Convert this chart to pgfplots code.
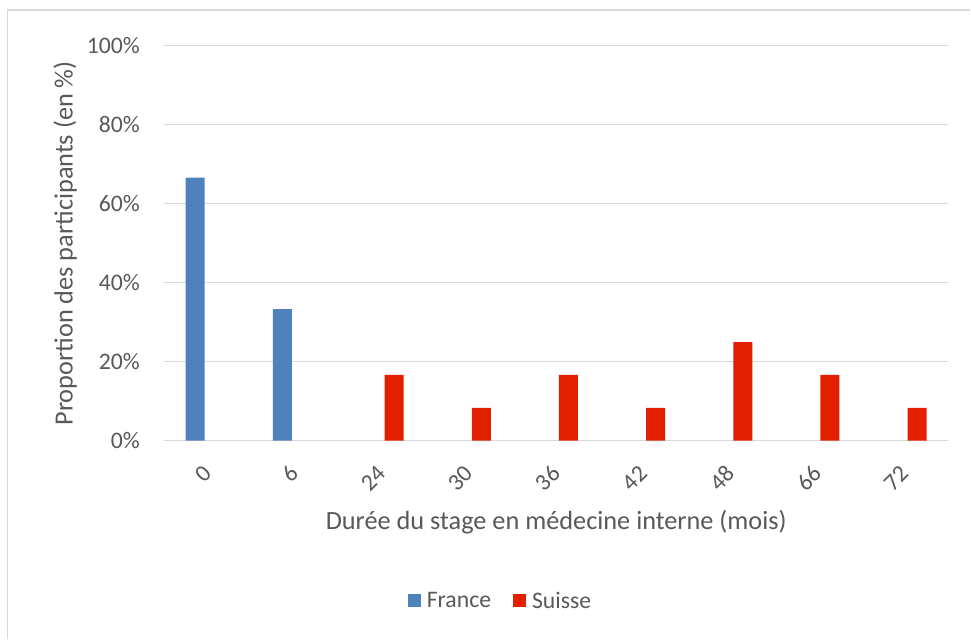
\documentclass[border=0pt]{standalone}
\usepackage{fontspec}
\setmainfont{Carlito}
\usepackage{pgfplots}
\pgfplotsset{compat=1.18}
\definecolor{fr}{RGB}{79,129,189}
\definecolor{ch}{RGB}{226,32,0}
\definecolor{txt}{RGB}{89,89,89}
\definecolor{grd}{RGB}{217,217,217}
\begin{document}
\begin{tikzpicture}[x=1bp,y=1bp]
\path[fill=white] (0,0) rectangle (971,639);
\draw[grd, line width=1.2bp] (7.5,0) -- (7.5,629) -- (971,629);
\begin{axis}[
  at={(164bp,198bp)}, anchor=south west,
  scale only axis, width=785bp, height=395bp,
  xmin=-0.5, xmax=8.5, ymin=0, ymax=100,
  xtick={0,...,8}, xticklabels={0,6,24,30,36,42,48,66,72},
  ytick={0,20,...,100}, yticklabels={0\%,20\%,40\%,60\%,80\%,100\%},
  axis line style={draw=none},
  major tick length=0pt,
  ymajorgrids, grid style={grd, line width=1bp},
  tick label style={font=\fontsize{23.7bp}{28bp}\selectfont, text=txt},
  yticklabel style={inner sep=0pt, anchor=east, xshift=-24bp},
  xticklabel style={inner sep=0pt, yshift=-29bp, rotate=45, anchor=east},
  /pgf/number format/assume math mode=true,
  xlabel={Durée du stage en médecine interne (mois)},
  ylabel={Proportion des participants (en \%)},
  label style={font=\fontsize{26.3bp}{31bp}\selectfont, text=txt},
  xlabel style={at={(axis description cs:0.5,-0.205)}, anchor=center},
  ylabel style={at={(axis description cs:-0.126,0.5)}, anchor=center, rotate=0},
  legend style={at={(axis description cs:0.429,-0.405)}, anchor=center, draw=none,
    font=\fontsize{23.7bp}{28bp}\selectfont, text=txt, legend columns=2,
    inner sep=0pt,
    /tikz/every even column/.append style={column sep=20bp}},
  legend image code/.code={\fill[#1] (0bp,-6.5bp) rectangle (13bp,6.5bp); \path (17bp,0bp);},
  bar width=19bp,
  clip=false,
]
\addplot[ybar, bar shift=-12.3bp, fill=fr, draw=none] coordinates {(0,66.67) (1,33.33)};
\addlegendentry{France}
\addplot[ybar, bar shift=12.3bp, fill=ch, draw=none] coordinates {(2,16.67) (3,8.33) (4,16.67) (5,8.33) (6,25) (7,16.67) (8,8.33)};
\addlegendentry{Suisse}
\end{axis}
\end{tikzpicture}
\end{document}
